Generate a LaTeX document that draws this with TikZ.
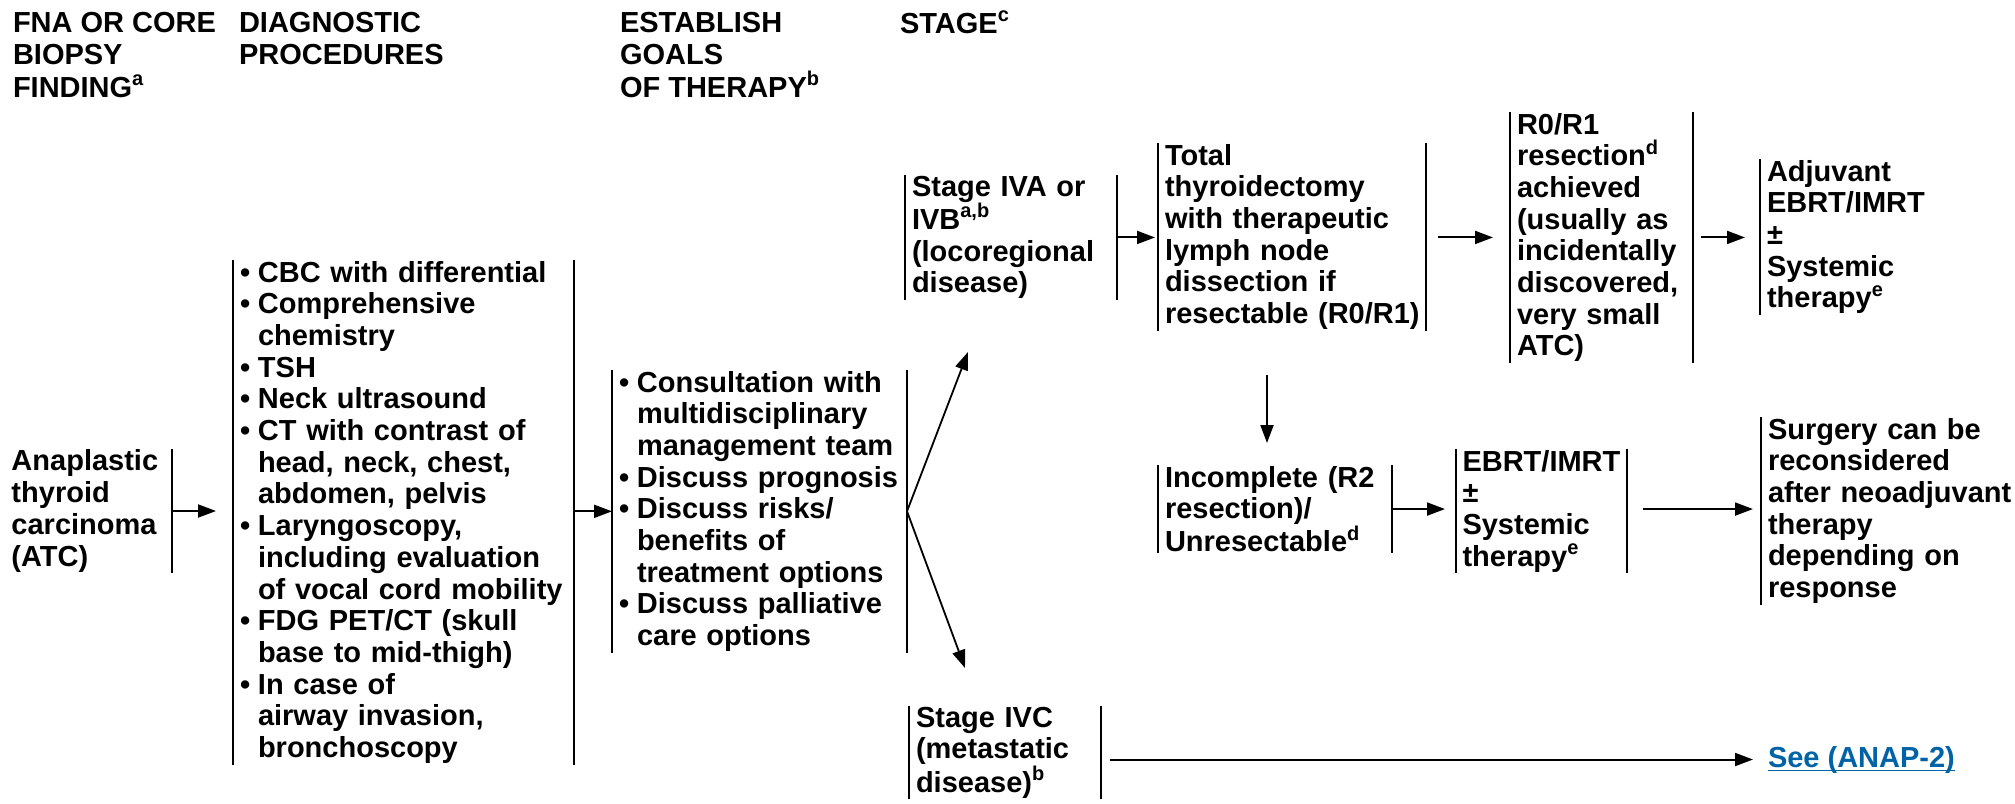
\documentclass[tikz,border=0pt]{standalone}
\usepackage{fontspec}
\setmainfont{Liberation Sans}
\usetikzlibrary{arrows.meta,calc}
\definecolor{linkblue}{RGB}{0,99,166}
\newcommand\bul{\makebox[18pt][l]{•}}
\newcommand\bind{\hspace*{18pt}}
\newcommand\supr[1]{\raisebox{0.4em}{\fontsize{20}{20}\selectfont #1}}
\begin{document}
\begin{tikzpicture}[x=1pt,y=-1pt,
  every node/.style={font=\fontsize{29}{31.7}\selectfont\bfseries, inner ysep=1pt, inner xsep=7pt, outer sep=0pt, align=left, execute at begin node={\hyphenpenalty=10000 \exhyphenpenalty=10000}},
  hdr/.style={font=\fontsize{29}{32.5}\selectfont\bfseries, inner sep=0pt, anchor=north west},
  barline/.style={draw, line width=2.2pt},
  lrbar/.style={append after command={
     (\tikzlastnode.north west) edge[barline] (\tikzlastnode.south west)
     (\tikzlastnode.north east) edge[barline] (\tikzlastnode.south east)}},
  lbar/.style={append after command={
     (\tikzlastnode.north west) edge[barline] (\tikzlastnode.south west)}},
  rbar/.style={append after command={
     (\tikzlastnode.north east) edge[barline] (\tikzlastnode.south east)}},
  arr/.style={line width=2pt, -{Triangle[length=18pt,width=13pt]}},
  fork/.style={line width=1.8pt, -{Triangle[length=18pt,width=13pt]}}
]
\useasboundingbox (0,0) rectangle (2015,803);

% headers
\node[hdr] (h1) at (13,12.2) {FNA OR CORE\\BIOPSY\\FINDING\supr{a}};
\node[hdr] (h2) at (239,12.2) {DIAGNOSTIC\\PROCEDURES};
\node[hdr] (h3) at (620,12.2) {ESTABLISH\\GOALS\\OF THERAPY\supr{b}};
\node[font=\fontsize{29}{32.5}\selectfont\bfseries, inner sep=0pt, anchor=base west] (h4) at (900,33) {STAGE\supr{c}};

% nodes
\node[rbar, anchor=east, text width=153.5pt] (ana) at (172,511)
  {Anaplastic\\thyroid\\carcinoma\\(ATC)};

\node[lrbar, anchor=north west, text width=327pt] (diag) at (233,260)
  {\bul CBC with differential\\
   \bul Comprehensive\\ \bind chemistry\\
   \bul TSH\\
   \bul Neck ultrasound\\
   \bul CT with contrast of\\ \bind head, neck, chest,\\ \bind abdomen, pelvis\\
   \bul Laryngoscopy,\\ \bind including evaluation\\ \bind of vocal cord mobility\\
   \bul FDG PET/CT (skull\\ \bind base to mid-thigh)\\
   \bul In case of\\ \bind airway invasion,\\ \bind bronchoscopy};

\node[lrbar, anchor=north west, text width=281pt] (goals) at (612,370)
  {\bul Consultation with\\ \bind multidisciplinary\\ \bind management team\\
   \bul Discuss~prognosis\\
   \bul Discuss risks/\\ \bind benefits of\\ \bind treatment options\\
   \bul Discuss palliative\\ \bind care options};

\node[lrbar, anchor=north west, text width=198pt] (s4ab) at (905,175)
  {Stage IVA or\\IVB\supr{a,b}\\(locoregional\\disease)};

\node[lrbar, anchor=north west, text width=254pt] (total) at (1158,143)
  {Total\\thyroidectomy\\with therapeutic\\lymph node\\dissection if\\resectable~(R0/R1)};

\node[lrbar, anchor=north west, text width=169pt] (r0) at (1510,112)
  {R0/R1\\resection\supr{d}\\achieved\\(usually as\\incidentally\\discovered,\\very small\\ATC)};

\node[lbar, anchor=north west, text width=200pt] (adj) at (1760,159)
  {Adjuvant\\EBRT/IMRT\\±\\Systemic\\therapy\supr{e}};

\node[lrbar, anchor=north west, text width=220pt] (inc) at (1158,465)
  {Incomplete (R2\\resection)/\\Unresectable\supr{d}};

\node[lrbar, anchor=north west, text width=158pt, inner xsep=6.5pt] (ebrt) at (1456,449)
  {EBRT/IMRT\\±\\Systemic\\therapy\supr{e}};

\node[lbar, anchor=north west, text width=262pt] (surg) at (1761,417)
  {Surgery can be\\reconsidered\\after~neoadjuvant\\therapy\\depending on\\response};

\node[lrbar, anchor=north west, text width=178pt] (s4c) at (909,706)
  {Stage IVC\\(metastatic\\disease)\supr{b}};

\node[anchor=base west, inner sep=0pt, text=linkblue] (anap) at (1768,767) {See (ANAP-2)};
\draw[linkblue, line width=1.8pt] ($(anap.base west)+(0,3.5)$) -- ($(anap.base east)+(0,3.5)$);

% coordinates
\coordinate (upT) at (968,352);
\coordinate (dnT) at (965,668);
\coordinate (dx) at (1267,0);

% connectors
\draw[arr, shorten >=17pt] (ana.east) -- (ana.east -| diag.west);
\draw[arr] (diag.east |- goals.west) -- (goals.west);
\draw[fork] (goals.east) -- (upT);
\draw[fork] (goals.east) -- (dnT);
\draw[arr, shorten >=3pt] (s4ab.east) -- (s4ab.east -| total.west);
\draw[arr, shorten <=12pt, shorten >=17pt] (total.east |- s4ab.east) -- (s4ab.east -| r0.west);
\draw[arr, shorten <=8pt, shorten >=15pt] (r0.east |- s4ab.east) -- (s4ab.east -| adj.west);
\draw[arr, shorten <=44pt, shorten >=22pt] (dx |- total.south) -- (dx |- inc.north);
\draw[arr, shorten >=11pt] (inc.east) -- (inc.east -| ebrt.west);
\draw[arr, shorten <=16pt, shorten >=8pt] (ebrt.east |- inc.east) -- (inc.east -| surg.west);
\draw[arr, shorten <=9pt, shorten >=15pt] (s4c.east |- anap.west) -- (anap.west);
\end{tikzpicture}
\end{document}
